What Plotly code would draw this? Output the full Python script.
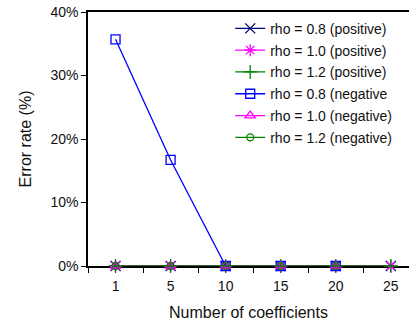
import plotly.graph_objects as go

categories = ["1", "5", "10", "15", "20", "25"]
pos_08 = [0, 0, 0, 0, 0, 0]
pos_10 = [0, 0, 0, 0, 0, 0]
pos_12 = [0, 0, 0, 0, 0, 0]
neg_08 = [35.7, 16.7, 0, 0, 0, None]
neg_10 = [0, 0, 0, 0, 0, None]
neg_12 = [0, 0, 0, 0, 0, None]
y_ticks = [0, 10, 20, 30, 40]
y_tick_labels = ["0%", "10%", "20%", "30%", "40%"]

series = [
    ("rho = 0.8 (positive)", pos_08, "#000080", "x-thin-open", 10),
    ("rho = 1.0 (positive)", pos_10, "#FF00FF", "asterisk-open", 10),
    ("rho = 1.2 (positive)", pos_12, "#008000", "cross-thin-open", 10),
    ("rho = 0.8 (negative", neg_08, "#0000FF", "square-open", 9),
    ("rho = 1.0 (negative)", neg_10, "#FF00FF", "triangle-up-open", 9),
    ("rho = 1.2 (negative)", neg_12, "#008000", "circle-open", 7),
]

fig = go.Figure()
for i, (name, vals, color, sym, size) in enumerate(series):
    fig.add_trace(go.Scatter(
        x=categories, y=vals, name=name, mode="lines+markers",
        legendgroup=f"g{i}",
        line=dict(color=color, width=1.3),
        marker=dict(symbol=sym, size=size, color=color, line=dict(color=color, width=1.3)),
        cliponaxis=False,
    ))

font = "Liberation Sans, Arial, sans-serif"
fig.update_layout(
    width=409, height=321,
    margin=dict(l=88, r=0, t=12, b=55),
    paper_bgcolor="white", plot_bgcolor="white",
    font=dict(family=font, size=14, color="#111"),
    showlegend=True,
    legend=dict(x=0.443, y=0.997, xanchor="left", yanchor="top",
                traceorder="grouped", tracegroupgap=0.6,
                bgcolor="rgba(0,0,0,0)", font=dict(size=14), itemwidth=30),
    xaxis=dict(
        type="category", range=[-0.5, 5.33], tickson="boundaries",
        ticks="outside", ticklen=5, tickwidth=1.2, tickcolor="black",
        showline=True, linecolor="black", linewidth=1.5, mirror=True,
        showgrid=False, zeroline=False, automargin=False, ticklabelstandoff=6,
        layer="below traces",
        title=dict(text="Number of coefficients", font=dict(size=16)),
    ),
    yaxis=dict(
        range=[0, 40], tickmode="array", tickvals=y_ticks, ticktext=y_tick_labels,
        ticks="outside", ticklen=5, tickwidth=1.2, tickcolor="black",
        showline=True, linecolor="black", linewidth=1.5,
        showgrid=False, zeroline=False, automargin=False,
        layer="below traces",
        title=dict(text="Error rate (%)", font=dict(size=16), standoff=15),
    ),
)

fig.write_html("out.html", config={"displayModeBar": False},
               post_script="document.body.style.margin='0';")
